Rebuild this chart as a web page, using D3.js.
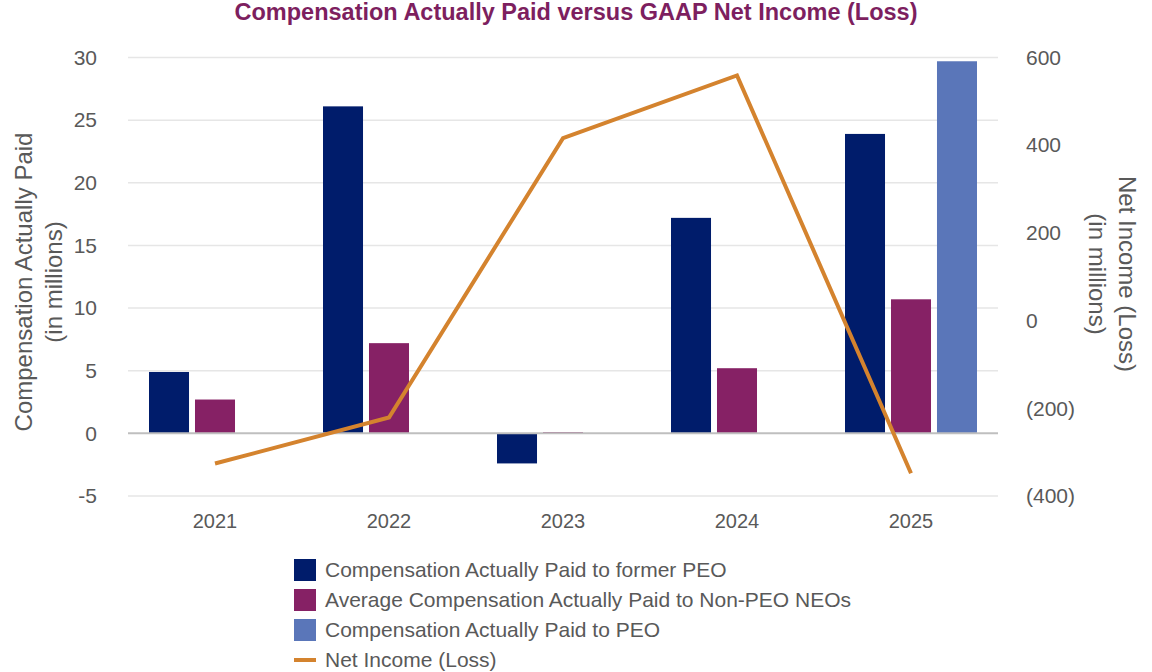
<!DOCTYPE html>
<html>
<head>
<meta charset="utf-8">
<script src="https://cdn.jsdelivr.net/npm/d3@7"></script>
<style>
  body { margin: 0; background: #fff; }
  text { font-family: "Liberation Sans", Arial, sans-serif; fill: #595959; }
</style>
</head>
<body>
<svg id="chart" width="1152" height="672"></svg>
<script>
const years = ["2021", "2022", "2023", "2024", "2025"];
const seriesNames = ["Compensation Actually Paid to former PEO",
    "Average Compensation Actually Paid to Non-PEO NEOs",
    "Compensation Actually Paid to PEO"];
const formerPeo = [4.9, 26.1, -2.4, 17.2, 23.9];
const nonPeoNeos = [2.7, 7.2, 0.1, 5.2, 10.7];
const peo = [null, null, null, null, 29.7];
const netIncome = [-326, -221, 416, 559, -348];
const leftTicks = [-5, 0, 5, 10, 15, 20, 25, 30];
const rightTicks = [-400, -200, 0, 200, 400, 600];
const lineName = "Net Income (Loss)";

const colors = ["#001c6b", "#862165", "#5a76b9"],
    lineColor = "#d4832e";

const margin = { top: 57.5, right: 154, bottom: 176, left: 128 };
const width = 1152 - margin.left - margin.right,
    height = 672 - margin.top - margin.bottom;

const svg = d3.select("#chart");

// title
svg.append("text")
    .attr("x", 576)
    .attr("y", 20)
    .attr("text-anchor", "middle")
    .style("font-size", "23.5px")
    .style("font-weight", "bold")
    .style("fill", "#7d1f5f")
    .text("Compensation Actually Paid versus GAAP Net Income (Loss)");

const g = svg.append("g")
    .attr("transform", "translate(" + margin.left + "," + margin.top + ")");

const x0 = d3.scaleBand().domain(years).range([0, width]).padding(0);
const x1 = d3.scaleBand().domain(d3.range(3))
    .range([21, x0.bandwidth() - 21]).paddingInner(0.13);
const yL = d3.scaleLinear().domain([-5, 30]).range([height, 0]);
const yR = d3.scaleLinear().domain([-400, 600]).range([height, 0]);

// grid lines
g.append("g").selectAll("line")
    .data(leftTicks.filter(d => d !== 0))
    .enter().append("line")
    .attr("x1", 0).attr("x2", width)
    .attr("y1", d => yL(d)).attr("y2", d => yL(d))
    .attr("stroke", "#e6e6e6")
    .attr("stroke-width", 1.5);

// left axis
const leftAxis = g.append("g")
    .call(d3.axisLeft(yL).tickValues(leftTicks).tickSize(0).tickPadding(31)
        .tickFormat(d => String(d)));
leftAxis.select(".domain").remove();
leftAxis.selectAll("text").style("font-size", "21px").style("fill", "#595959");

// right axis
const rightAxis = g.append("g")
    .attr("transform", "translate(" + width + ",0)")
    .call(d3.axisRight(yR).tickValues(rightTicks).tickSize(0).tickPadding(28)
        .tickFormat(d => d < 0 ? "(" + Math.abs(d) + ")" : d));
rightAxis.select(".domain").remove();
rightAxis.selectAll("text").style("font-size", "21px").style("fill", "#595959");

// x axis labels
const xAxis = g.append("g")
    .attr("transform", "translate(0," + height + ")")
    .call(d3.axisBottom(x0).tickSize(0).tickPadding(18));
xAxis.select(".domain").remove();
xAxis.selectAll("text").style("font-size", "20px").style("fill", "#595959");

// bars
const allSeries = [formerPeo, nonPeoNeos, peo];
const barData = [];
allSeries.forEach((s, si) => s.forEach((v, i) => {
    if (v !== null) barData.push({ year: years[i], series: si, value: v });
}));

g.append("g").selectAll("rect")
    .data(barData)
    .enter().append("rect")
    .attr("x", d => x0(d.year) + x1(d.series))
    .attr("width", x1.bandwidth())
    .attr("y", d => yL(Math.max(0, d.value)))
    .attr("height", d => Math.abs(yL(d.value) - yL(0)))
    .attr("fill", d => colors[d.series]);

// zero line
g.append("line")
    .attr("x1", 0).attr("x2", width)
    .attr("y1", yL(0)).attr("y2", yL(0))
    .attr("stroke", "#bfbfbf")
    .attr("stroke-width", 2);

// net income line
const line = d3.line()
    .x((d, i) => x0(years[i]) + x0.bandwidth() / 2)
    .y(d => yR(d));

g.append("path")
    .datum(netIncome)
    .attr("d", line)
    .attr("fill", "none")
    .attr("stroke", lineColor)
    .attr("stroke-width", 4)
    .attr("stroke-linejoin", "miter");

// axis titles
const leftTitle = svg.append("text")
    .attr("transform", "translate(24,282) rotate(-90)")
    .attr("text-anchor", "middle")
    .style("font-size", "24px");
leftTitle.append("tspan").attr("x", 0).attr("dy", "0.35em").text("Compensation Actually Paid");
leftTitle.append("tspan").attr("x", 0).attr("dy", "1.25em").text("(in millions)");

const rightTitle = svg.append("text")
    .attr("transform", "translate(1127,274) rotate(90)")
    .attr("text-anchor", "middle")
    .style("font-size", "24px");
rightTitle.append("tspan").attr("x", 0).attr("dy", "0.35em").text(lineName);
rightTitle.append("tspan").attr("x", 0).attr("dy", "1.25em").text("(in millions)");

// legend
const legend = svg.append("g").attr("transform", "translate(294,570)");
const items = legend.selectAll("g")
    .data(seriesNames.concat([lineName]))
    .enter().append("g")
    .attr("transform", (d, i) => "translate(0," + i * 30 + ")");

items.filter((d, i) => i < 3).append("rect")
    .attr("x", 0).attr("y", -11)
    .attr("width", 22).attr("height", 22)
    .attr("fill", (d, i) => colors[i]);

items.filter((d, i) => i === 3).append("line")
    .attr("x1", 0).attr("x2", 22)
    .attr("stroke", lineColor)
    .attr("stroke-width", 4);

items.append("text")
    .attr("x", 31)
    .attr("dy", "0.35em")
    .style("font-size", "21px")
    .text(d => d);
</script>
</body>
</html>
